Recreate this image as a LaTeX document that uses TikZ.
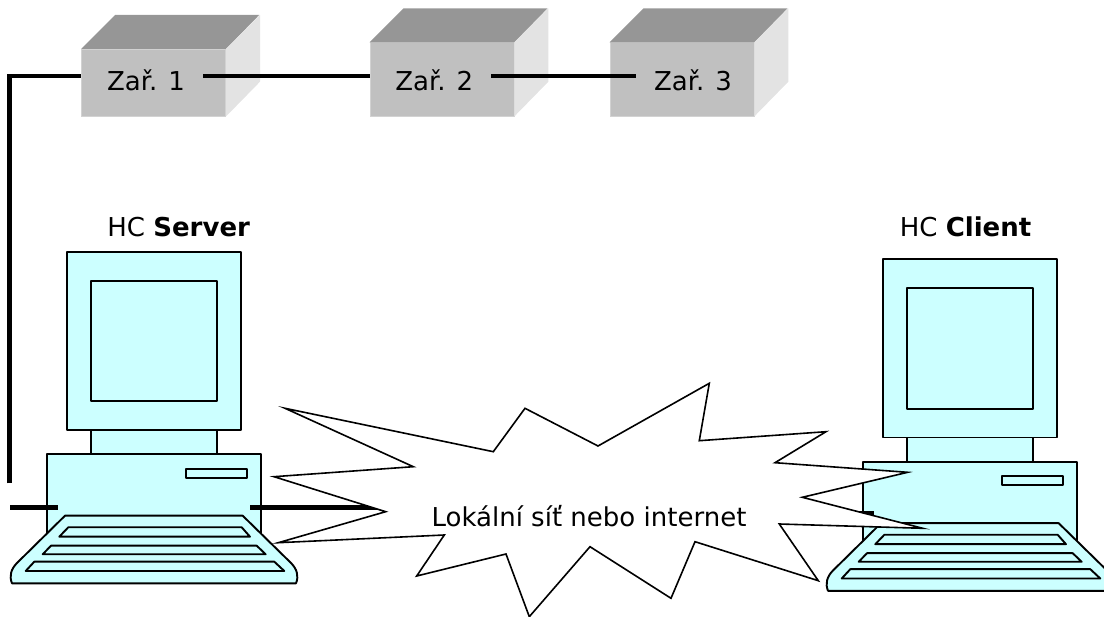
\documentclass[tikz,border=0pt]{standalone}
\usepackage{fontspec}
\setmainfont{DejaVu Sans}
\definecolor{boxfront}{RGB}{192,192,192}
\definecolor{boxtop}{RGB}{150,150,150}
\definecolor{boxside}{RGB}{227,227,227}
\definecolor{boxedge}{RGB}{210,210,210}
\definecolor{pcfill}{RGB}{204,255,255}

% one desktop computer: monitor, neck, base unit and keyboard
\newcommand\drawpc[1]{%
  \begin{scope}[shift={#1}]
    \draw[pcpart] (46.7,454.3) rectangle (261,536.7);
    \draw[pcpart] (185.7,468.7) rectangle (247.3,477.7);
    \draw[pcpart] (91,430) rectangle (216.7,454.3);
    \draw[pcpart] (66.7,251.7) rectangle (241,430);
    \draw[pcpart] (91,280.7) rectangle (216.7,401.3);
    \draw[pcpart] (65,515.7) -- (242.7,515.7) -- (291,563)
      .. controls (297,569) and (299,576) .. (296,583.3) -- (12,583.3)
      .. controls (9,576) and (11,569) .. (17,563) -- cycle;
    \draw[pcpart] (68.3,527.3) -- (241.7,527.3) -- (250,536.7) -- (59.3,536.7) -- cycle;
    \draw[pcpart] (51,545.7) -- (256.7,545.7) -- (265.7,554.3) -- (42.7,554.3) -- cycle;
    \draw[pcpart] (34.3,561.7) -- (274.3,561.7) -- (284.3,571) -- (25.7,571) -- cycle;
  \end{scope}}

% a device drawn as a shaded cube: front face node plus top and side faces
\newcommand\device[5]{%
  \node[front, minimum width=#4pt, minimum height=#5pt] (#1) at (#2,#3) {};
  \fill[boxtop] (#1.north west) -- ++(34,-34) -- ++(#4,0) -- (#1.north east) -- cycle;
  \fill[boxside] (#1.north east) -- ++(34,-34) -- ++(0,#5) -- (#1.south east) -- cycle;}

\begin{document}
\begin{tikzpicture}[x=1pt,y=-1pt,
  front/.style={fill=boxfront, draw=boxedge, line width=0.8pt, inner sep=0pt},
  lbl/.style={font=\fontsize{26}{30}\selectfont, inner sep=0pt, anchor=base},
  devlbl/.style={lbl, inner xsep=18pt},
  wire/.style={line width=4.5pt, line cap=butt, line join=miter},
  pcpart/.style={fill=pcfill, draw=black, line width=1.9pt, line join=round},
  burst/.style={fill=white, draw=black, line width=1.6pt, line join=miter}]
\useasboundingbox (0,0) rectangle (1104,617);
\clip (0,0) rectangle (1104,617);

% devices on the bus
\device{f1}{153.7}{82.65}{144}{66.7}
\device{f2}{442}{79.35}{144}{73.3}
\device{f3}{682}{79.35}{144}{73.3}
\node[devlbl] (t1) at (146,90.7) {Zař. 1};
\node[devlbl] (t2) at (434.2,90.7) {Zař. 2};
\node[devlbl] (t3) at (693,90.7) {Zař. 3};

% bus cabling
\coordinate (vbot) at (9.5,483.3);
\coordinate (vtop) at (9.5,76);
\draw[wire] (vbot) -- (vtop) -- (f1.west |- vtop);
\draw[wire] (t1.east |- vtop) -- (f2.west |- vtop);
\draw[wire] (t2.east |- vtop) -- (t3.west |- vtop);

% server and client computers
\drawpc{(0,0)}
\drawpc{(816,7.5)}
\node[lbl] (srvlbl) at (178.7,236.7) {HC \textbf{Server}};
\node[lbl] (clilbl) at (965.5,236.7) {HC \textbf{Client}};

% network label (placed first so the cables can reach it)
\path node[lbl] (net) at (589,527) {\phantom{Lokální síť nebo internet}};

% cables of the computers
\coordinate (sl1) at (10,507.3);
\coordinate (sl2) at (57.7,507.3);
\coordinate (srvR) at (250,507.3);
\coordinate (cliL) at (874,513.3);
\draw[wire] (sl1) -- (sl2);
\draw[wire] (srvR) -- (net.west |- srvR);
\draw[wire] (net.east |- cliL) -- (cliL);

% the network cloud
\draw[burst] (285,408.3) -- (493.3,451.7) -- (525,408.3) -- (598,446)
  -- (709.3,383.3) -- (699.3,440.7) -- (826,431.7) -- (775,462.7)
  -- (907.7,472.3) -- (802.3,497.3) -- (922.7,528.3) -- (779.3,524)
  -- (818.3,580.7) -- (695,541.7) -- (671,598.3) -- (590,546.7)
  -- (529.3,616.7) -- (506,554) -- (416.7,576) -- (444.3,535)
  -- (278.3,542.7) -- (385.7,511.7) -- (274,476.7) -- (413.3,466.7) -- cycle;
\node[lbl] at (net.base) {Lokální síť nebo internet};
\end{tikzpicture}
\end{document}
